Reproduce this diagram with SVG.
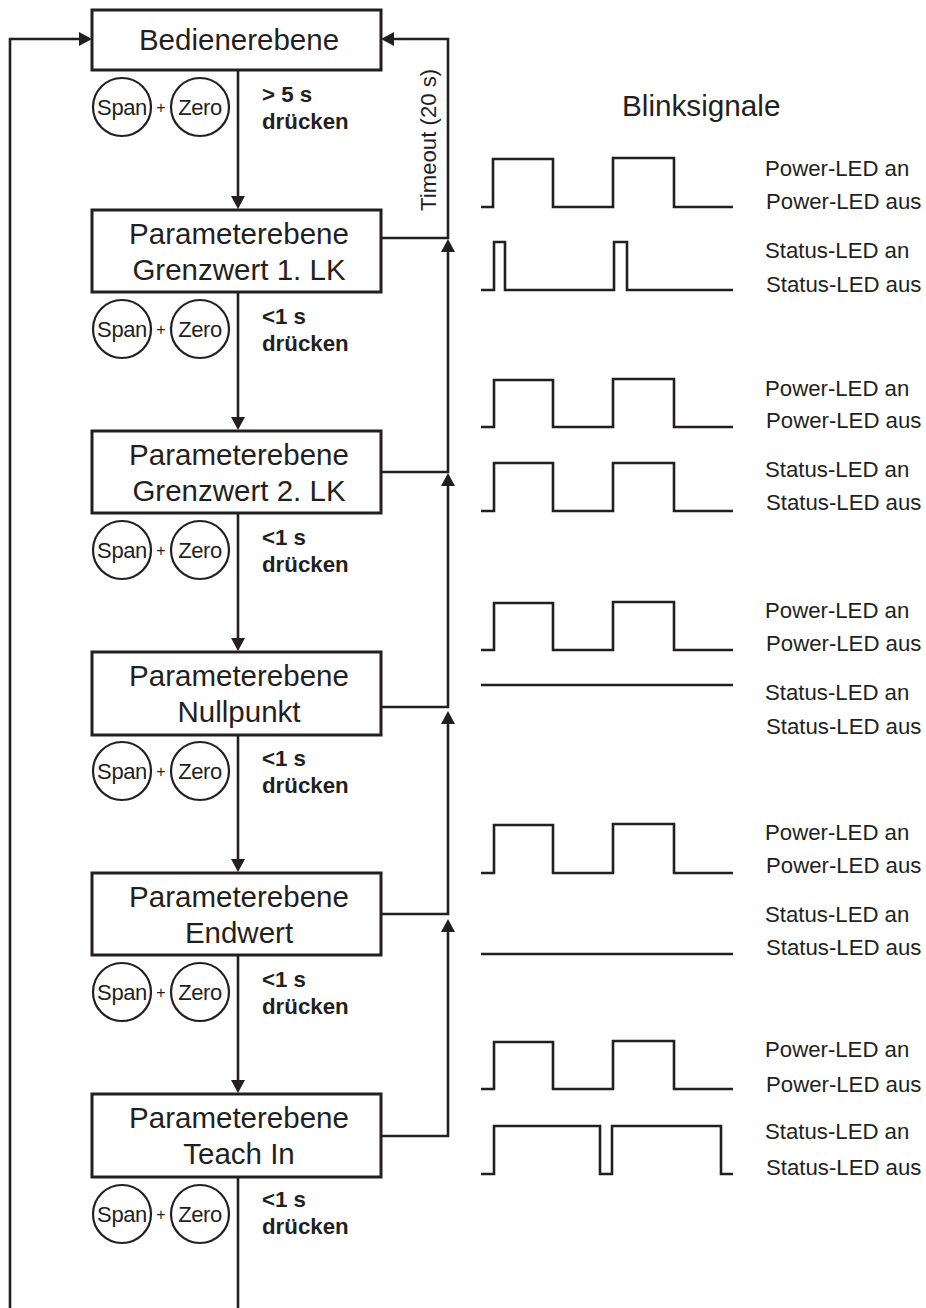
<svg xmlns="http://www.w3.org/2000/svg" width="926" height="1308" viewBox="0 0 926 1308">
<style>
text{font-family:"Liberation Sans",Arial,sans-serif;fill:#231f20}
.b{fill:#fff;stroke:#231f20;stroke-width:3}
.t{font-size:29.5px;text-anchor:middle}
.c{fill:#fff;stroke:#231f20;stroke-width:2.2}
.k{font-size:22px;text-anchor:middle;letter-spacing:-.4px}
.p{font-size:16px;text-anchor:middle}
.d{font-size:22.3px;font-weight:bold}
.l{font-size:22.2px}
.h{font-size:29.7px}
.w,.s{fill:none;stroke:#231f20;stroke-width:2.6}
.a{fill:#231f20}
</style>
<defs>
<g id="btns">
<circle class="c" cx="122" cy="0" r="29"/><text class="k" x="122" y="8">Span</text>
<text class="p" x="161" y="6">+</text>
<circle class="c" cx="200" cy="0" r="29"/><text class="k" x="200" y="8">Zero</text>
</g>
</defs>
<g id="connectors">
<path class="w" d="M10 1308V39H80"/><path class="a" d="M79 32L92 39L79 46Z"/>
<path class="w" d="M238 70V197"/><path class="a" d="M231 196H245L238 209Z"/>
<path class="w" d="M238 292V418"/><path class="a" d="M231 417H245L238 430Z"/>
<path class="w" d="M238 513V639"/><path class="a" d="M231 638H245L238 651Z"/>
<path class="w" d="M238 735V860"/><path class="a" d="M231 859H245L238 872Z"/>
<path class="w" d="M238 955V1081"/><path class="a" d="M231 1080H245L238 1093Z"/>
<path class="w" d="M238 1177V1308"/>
<path class="w" d="M381 238H448V39H392"/><path class="a" d="M394 32L381 39L394 46Z"/>
<path class="w" d="M381 472H448V250"/><path class="a" d="M441 252L448 239L455 252Z"/>
<path class="w" d="M381 707H448V485"/><path class="a" d="M441 486L448 473L455 486Z"/>
<path class="w" d="M381 914H448V720"/><path class="a" d="M441 724L448 711L455 724Z"/>
<path class="w" d="M381 1136H448V927"/><path class="a" d="M441 932L448 919L455 932Z"/>
</g>
<text class="l" transform="translate(436 211) rotate(-90)">Timeout (20 s)</text>
<g id="n1"><rect class="b" x="92" y="10" width="289" height="60"/><text class="t" x="239" y="50">Bedienerebene</text></g>
<g id="n2"><rect class="b" x="92" y="210" width="289" height="82"/><text class="t" x="239" y="244">Parameterebene</text><text class="t" x="239" y="280">Grenzwert 1. LK</text></g>
<g id="n3"><rect class="b" x="92" y="431" width="289" height="82"/><text class="t" x="239" y="465">Parameterebene</text><text class="t" x="239" y="501">Grenzwert 2. LK</text></g>
<g id="n4"><rect class="b" x="92" y="652" width="289" height="83"/><text class="t" x="239" y="686">Parameterebene</text><text class="t" x="239" y="722">Nullpunkt</text></g>
<g id="n5"><rect class="b" x="92" y="873" width="289" height="82"/><text class="t" x="239" y="907">Parameterebene</text><text class="t" x="239" y="943">Endwert</text></g>
<g id="n6"><rect class="b" x="92" y="1094" width="289" height="83"/><text class="t" x="239" y="1128">Parameterebene</text><text class="t" x="239" y="1164">Teach In</text></g>
<g id="b1"><use href="#btns" y="107"/><text class="d" x="262" y="102">&gt; 5 s</text><text class="d" x="262" y="129">drücken</text></g>
<g id="b2"><use href="#btns" y="329"/><text class="d" x="262" y="324">&lt;1 s</text><text class="d" x="262" y="351">drücken</text></g>
<g id="b3"><use href="#btns" y="550"/><text class="d" x="262" y="545">&lt;1 s</text><text class="d" x="262" y="572">drücken</text></g>
<g id="b4"><use href="#btns" y="771"/><text class="d" x="262" y="766">&lt;1 s</text><text class="d" x="262" y="793">drücken</text></g>
<g id="b5"><use href="#btns" y="992"/><text class="d" x="262" y="987">&lt;1 s</text><text class="d" x="262" y="1014">drücken</text></g>
<g id="b6"><use href="#btns" y="1214"/><text class="d" x="262" y="1207">&lt;1 s</text><text class="d" x="262" y="1234">drücken</text></g>
<text class="h" x="622" y="116">Blinksignale</text>
<g id="signals">
<path class="s" d="M481 207H493V159H553V207H613V158H674V207H733"/>
<path class="s" d="M481 290H494V242H505V290H614V242H627V290H733"/>
<path class="s" d="M481 427H494V380H553V427H613V379H674V427H733"/>
<path class="s" d="M481 511H494V463H553V511H613V463H674V511H733"/>
<path class="s" d="M481 650H494V603H553V650H613V602H674V650H733"/>
<path class="s" d="M481 685H733"/>
<path class="s" d="M481 873H494V825H553V873H613V824H674V873H733"/>
<path class="s" d="M481 954H733"/>
<path class="s" d="M481 1089H494V1042H553V1089H613V1041H674V1089H733"/>
<path class="s" d="M481 1174H494V1126H600V1174H612V1126H721V1174H733"/>
</g>
<g id="labels">
<text class="l" x="765" y="176">Power-LED an</text><text class="l" x="766" y="209">Power-LED aus</text>
<text class="l" x="765" y="258">Status-LED an</text><text class="l" x="766" y="292">Status-LED aus</text>
<text class="l" x="765" y="396">Power-LED an</text><text class="l" x="766" y="428">Power-LED aus</text>
<text class="l" x="765" y="477">Status-LED an</text><text class="l" x="766" y="510">Status-LED aus</text>
<text class="l" x="765" y="618">Power-LED an</text><text class="l" x="766" y="651">Power-LED aus</text>
<text class="l" x="765" y="700">Status-LED an</text><text class="l" x="766" y="734">Status-LED aus</text>
<text class="l" x="765" y="840">Power-LED an</text><text class="l" x="766" y="873">Power-LED aus</text>
<text class="l" x="765" y="922">Status-LED an</text><text class="l" x="766" y="955">Status-LED aus</text>
<text class="l" x="765" y="1057">Power-LED an</text><text class="l" x="766" y="1092">Power-LED aus</text>
<text class="l" x="765" y="1139">Status-LED an</text><text class="l" x="766" y="1175">Status-LED aus</text>
</g>
</svg>
